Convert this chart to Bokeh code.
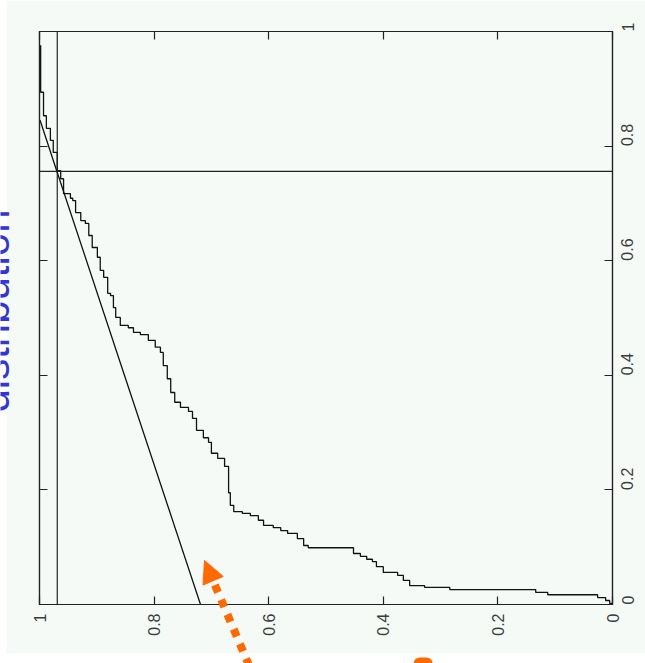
import math
from bokeh.plotting import figure
from bokeh.models import (Range1d, LinearAxis, FixedTicker, Span, Arrow,
                          NormalHead, Label, BoxAnnotation)
from bokeh.embed import file_html
from bokeh.resources import INLINE

# ---- data -------------------------------------------------------------
tick_values = [0, 0.2, 0.4, 0.6, 0.8, 1]
tick_labels = ["0", "0.2", "0.4", "0.6", "0.8", "1"]

# stepped (empirical) curve
ecdf_x = [0.998, 0.998, 0.995, 0.993, 0.988, 0.981, 0.976, 0.969, 0.963, 0.958,
          0.951, 0.946, 0.942, 0.937, 0.928, 0.920, 0.914, 0.908, 0.899, 0.894,
          0.888, 0.881, 0.876, 0.871, 0.867, 0.859, 0.845, 0.836, 0.824, 0.810,
          0.798, 0.789, 0.784, 0.777, 0.771, 0.764, 0.754, 0.740, 0.733, 0.726,
          0.714, 0.705, 0.700, 0.689, 0.677, 0.670, 0.670, 0.667, 0.661, 0.646,
          0.632, 0.618, 0.609, 0.592, 0.579, 0.567, 0.550, 0.539, 0.531, 0.457,
          0.452, 0.440, 0.429, 0.419, 0.412, 0.400, 0.375, 0.365, 0.354, 0.328,
          0.284, 0.141, 0.134, 0.113, 0.038, 0.026, 0.012, 0.005, 0.0]
ecdf_y = [0.976, 0.894, 0.894, 0.853, 0.831, 0.810, 0.789, 0.757, 0.743, 0.717,
          0.717, 0.709, 0.705, 0.684, 0.670, 0.665, 0.644, 0.623, 0.606, 0.583,
          0.571, 0.543, 0.539, 0.518, 0.501, 0.487, 0.483, 0.475, 0.471, 0.461,
          0.449, 0.440, 0.417, 0.394, 0.370, 0.353, 0.344, 0.337, 0.325, 0.304,
          0.291, 0.283, 0.264, 0.255, 0.241, 0.230, 0.195, 0.173, 0.162, 0.159,
          0.155, 0.147, 0.138, 0.134, 0.129, 0.124, 0.115, 0.103, 0.099, 0.099,
          0.089, 0.084, 0.079, 0.075, 0.066, 0.056, 0.051, 0.042, 0.033, 0.030,
          0.026, 0.026, 0.021, 0.017, 0.017, 0.012, 0.007, 0.002, 0.0]

# nearly straight curve
line_x = [0.999, 0.969, 0.859, 0.719]
line_y = [0.845, 0.754, 0.422, 0.0]

# reference lines
ref_x = 0.969
ref_y = 0.756

title_text = "distribution"

# ---- style ------------------------------------------------------------
PALE = "#f5faf7"
INK = "#222222"
TXT = "#3c3c3c"
ORANGE = "#ff6a00"
BLUE = "#3535cf"
FONT = "Liberation Sans"

W, H = 645, 663
BL, BR, BT, BB = 39, 33, 31, 59          # borders around the plot box
FW, FH = W - BL - BR, H - BT - BB        # frame size in px

p = figure(width=W, height=H, x_range=Range1d(1, 0), y_range=Range1d(0, 1),
           y_axis_location="right", output_backend="svg", toolbar_location=None,
           min_border_left=BL, min_border_right=BR, min_border_top=BT,
           min_border_bottom=BB, background_fill_color=PALE,
           border_fill_color=PALE, outline_line_color=INK, outline_line_width=1.2)
p.grid.visible = False

labels = {v: l for v, l in zip(tick_values, tick_labels)}


def style_axis(ax, show_labels, standoff=9):
    ax.ticker = FixedTicker(ticks=tick_values)
    ax.major_tick_in = 8
    ax.major_tick_out = 0
    ax.minor_tick_line_color = None
    ax.axis_line_color = INK
    ax.axis_line_width = 1.2
    ax.major_tick_line_color = INK
    ax.major_tick_line_width = 1.2
    if show_labels:
        ax.major_label_overrides = labels
        ax.major_label_orientation = math.pi / 2
        ax.major_label_standoff = standoff
        ax.major_label_text_font = FONT
        ax.major_label_text_font_size = "16px"
        ax.major_label_text_color = TXT
    else:
        ax.major_label_text_alpha = 0
        ax.major_label_text_font_size = "1px"
        ax.major_label_standoff = 0


style_axis(p.xaxis[0], True, 9)
style_axis(p.yaxis[0], True, 15)
left_ax = LinearAxis()
top_ax = LinearAxis()
style_axis(left_ax, False)
style_axis(top_ax, False)
p.add_layout(left_ax, "left")
p.add_layout(top_ax, "above")

p.add_layout(Span(location=ref_x, dimension="height", line_color=INK, line_width=1.2))
p.add_layout(Span(location=ref_y, dimension="width", line_color=INK, line_width=1.2))

p.line(line_x, line_y, line_color="#111111", line_width=1.3)
p.step(ecdf_x, ecdf_y, mode="after", line_color="#111111", line_width=1.3)

# ---- transparent overlay covering the whole page (same data mapping) ----
ov = figure(width=W, height=H,
            x_range=Range1d(1 + BL / FW, -BR / FW),
            y_range=Range1d(-BB / FH, 1 + BT / FH),
            x_axis_location=None, y_axis_location=None,
            output_backend="svg", toolbar_location=None, min_border=0,
            background_fill_color=None, border_fill_color=None,
            outline_line_color=None)
ov.grid.visible = False
ov.styles = {"position": "absolute", "left": "0px", "top": "0px"}

# white page strips outside the slide
ov.add_layout(BoxAnnotation(left=1 + BL / FW, right=1 + (BL - 6) / FW,
                            fill_color="white", fill_alpha=1, line_color=None))
ov.add_layout(BoxAnnotation(top=-(BB - 10) / FH,
                            fill_color="white", fill_alpha=1, line_color=None))

# orange decorations
ov.add_layout(BoxAnnotation(left=0.347, right=0.314, bottom=-0.13, top=-0.0925,
                            fill_color=ORANGE, fill_alpha=1, line_color=None,
                            border_radius=6))
ov.add_layout(Arrow(end=NormalHead(size=22, fill_color=ORANGE, line_color=ORANGE),
                    x_start=0.623, y_start=-0.133, x_end=0.712, y_end=0.0768,
                    line_color=ORANGE, line_width=8, line_dash="8 8"))

# blue heading text, cut by the page edge
ov.add_layout(Label(x=1.0791, y=0.335, text=title_text, angle=math.pi / 2,
                    text_font=FONT, text_font_size="42px", text_color=BLUE,
                    text_align="left", text_baseline="alphabetic"))

open("out.html", "w").write(file_html([p, ov], INLINE))
